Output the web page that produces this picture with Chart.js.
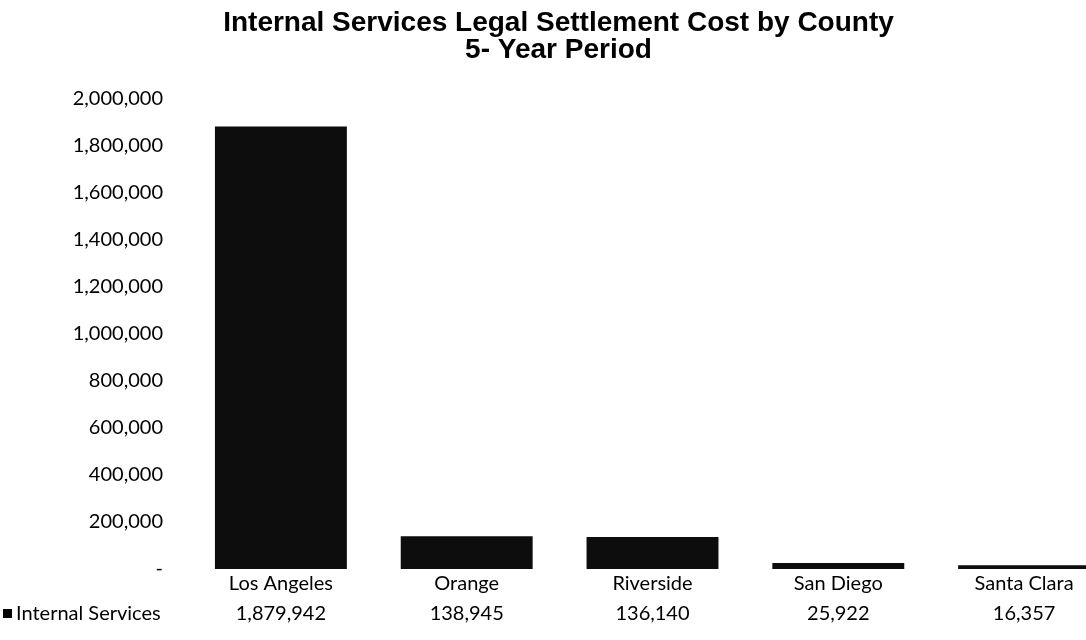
<!DOCTYPE html>
<html>
<head>
<meta charset="utf-8">
<script src="https://cdn.jsdelivr.net/npm/chart.js@4/dist/chart.umd.min.js"></script>
<style>
  html, body { margin: 0; padding: 0; background: #ffffff; overflow: hidden; }
  #wrap { width: 1120px; height: 640px; }
</style>
</head>
<body>
<div id="wrap"><canvas id="c" width="1120" height="640"></canvas></div>
<script>
const categories = ["Los Angeles", "Orange", "Riverside", "San Diego", "Santa Clara"];
const seriesName = "Internal Services";
const values = [1879942, 138945, 136140, 25922, 16357];
const yTicks = [0, 200000, 400000, 600000, 800000, 1000000, 1200000, 1400000, 1600000, 1800000, 2000000];
const titleLines = ["Internal Services Legal Settlement Cost by County", "5- Year Period"];

const bodyFont = "Lato, 'Open Sans', sans-serif";
const fmt = v => v === 0 ? "-" : v.toLocaleString("en-US");

const dataTable = {
  id: "dataTable",
  afterDraw(chart) {
    const ctx = chart.ctx;
    const x = chart.scales.x;
    ctx.save();
    ctx.fillStyle = "#000";
    ctx.font = "20px " + bodyFont;
    ctx.textBaseline = "middle";
    const y = 614;
    ctx.fillRect(3, 609, 9, 9);
    ctx.textAlign = "left";
    ctx.fillText(seriesName, 16, y);
    ctx.textAlign = "center";
    values.forEach((v, i) => {
      ctx.fillText(fmt(v), x.getPixelForValue(i), y);
    });
    ctx.restore();
  }
};

new Chart(document.getElementById("c"), {
  type: "bar",
  data: {
    labels: categories,
    datasets: [{
      label: seriesName,
      data: values,
      backgroundColor: "#0d0d0d",
      borderWidth: 0,
      barPercentage: 0.71,
      categoryPercentage: 1.0
    }]
  },
  options: {
    responsive: false,
    animation: false,
    layout: { padding: { left: 0, right: 3, top: 0, bottom: 0 } },
    plugins: {
      legend: { display: false },
      tooltip: { enabled: false },
      title: {
        display: true,
        text: titleLines,
        color: "#000",
        font: { family: "'Liberation Sans', Arial, sans-serif", size: 28, weight: "bold", lineHeight: 0.97 },
        padding: { top: 10, bottom: 34 }
      }
    },
    scales: {
      x: {
        grid: { display: false, drawTicks: false },
        border: { display: false },
        ticks: { color: "#000", font: { family: bodyFont, size: 20 }, padding: 3, maxRotation: 0 },
        afterFit(s) { s.height = 71; }
      },
      y: {
        min: 0,
        max: 2000000,
        afterBuildTicks(s) { s.ticks = yTicks.map(v => ({ value: v })); },
        grid: { display: false, drawTicks: false },
        border: { display: false },
        ticks: {
          color: "#000",
          font: { family: bodyFont, size: 20 },
          padding: 25,
          callback: v => fmt(v)
        },
        afterFit(s) { s.width = 188; }
      }
    }
  },
  plugins: [dataTable]
});
</script>
</body>
</html>
